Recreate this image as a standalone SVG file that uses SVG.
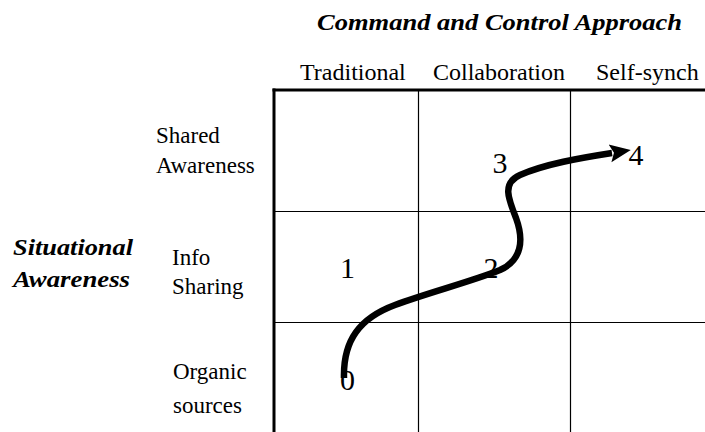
<svg xmlns="http://www.w3.org/2000/svg" width="705" height="432" viewBox="0 0 705 432">
  <style>
    .thin { stroke: #000; stroke-width: 1.2; fill: none; }
    .thick { stroke: #000; stroke-width: 3; fill: none; }
    .path { stroke: #000; stroke-width: 6.5; fill: none; stroke-linecap: butt; }
  </style>
  <defs>
    <marker id="arrow" markerUnits="userSpaceOnUse" markerWidth="24" markerHeight="24" refX="2" refY="10" orient="auto">
      <path d="M0,1 L21,10 L0,19 L4,10 Z" fill="#000"/>
    </marker>
  </defs>
  <rect width="705" height="432" fill="#fff"/>

  <g id="grid">
    <line class="thin" x1="418.5" y1="90" x2="418.5" y2="432"/>
    <line class="thin" x1="570.5" y1="90" x2="570.5" y2="432"/>
    <line class="thin" x1="274" y1="211.5" x2="705" y2="211.5"/>
    <line class="thin" x1="274" y1="322.5" x2="705" y2="322.5"/>
    <line class="thick" x1="272.5" y1="90" x2="705" y2="90"/>
    <line class="thick" x1="274" y1="88.5" x2="274" y2="432"/>
  </g>

  <g id="header">
    <text x="317" y="30" font-family="Liberation Serif" font-size="23" font-weight="bold" font-style="italic" textLength="365" lengthAdjust="spacingAndGlyphs">Command and Control Approach</text>
  </g>
  <g id="col-traditional"><text x="300" y="80" font-family="Liberation Serif" font-size="24">Traditional</text></g>
  <g id="col-collaboration"><text x="433" y="80" font-family="Liberation Serif" font-size="24">Collaboration</text></g>
  <g id="col-selfsynch"><text x="596" y="80" font-family="Liberation Serif" font-size="24">Self-synch</text></g>

  <g id="axis-situational">
    <text x="13" y="255" font-family="Liberation Serif" font-size="23" font-weight="bold" font-style="italic" textLength="120" lengthAdjust="spacingAndGlyphs">Situational</text>
    <text x="13" y="287" font-family="Liberation Serif" font-size="23" font-weight="bold" font-style="italic" textLength="117" lengthAdjust="spacingAndGlyphs">Awareness</text>
  </g>
  <g id="row-shared">
    <text x="156" y="143" font-family="Liberation Serif" font-size="23">Shared</text>
    <text x="156" y="173" font-family="Liberation Serif" font-size="23">Awareness</text>
  </g>
  <g id="row-info">
    <text x="172" y="265" font-family="Liberation Serif" font-size="23">Info</text>
    <text x="172" y="294" font-family="Liberation Serif" font-size="23">Sharing</text>
  </g>
  <g id="row-organic">
    <text x="173" y="379" font-family="Liberation Serif" font-size="23">Organic</text>
    <text x="173" y="413" font-family="Liberation Serif" font-size="23">sources</text>
  </g>

  <g id="n0"><text x="347.5" y="390" font-family="Liberation Serif" font-size="30" text-anchor="middle">0</text></g>
  <g id="n1"><text x="347.5" y="278" font-family="Liberation Serif" font-size="30" text-anchor="middle">1</text></g>
  <g id="n2"><text x="491" y="278" font-family="Liberation Serif" font-size="30" text-anchor="middle">2</text></g>
  <g id="n3"><text x="500" y="173" font-family="Liberation Serif" font-size="30" text-anchor="middle">3</text></g>
  <g id="n4"><text x="636" y="165" font-family="Liberation Serif" font-size="30" text-anchor="middle">4</text></g>

  <g id="connectors">
    <path class="path" marker-end="url(#arrow)" d="M 344 378 C 343 340, 360 318, 395 305 C 430 292, 470 282, 500 270 C 522 260, 524 240, 516 218 C 508 198, 502 183, 520 175 C 545 164, 580 158, 612 153"/>
  </g>
</svg>
